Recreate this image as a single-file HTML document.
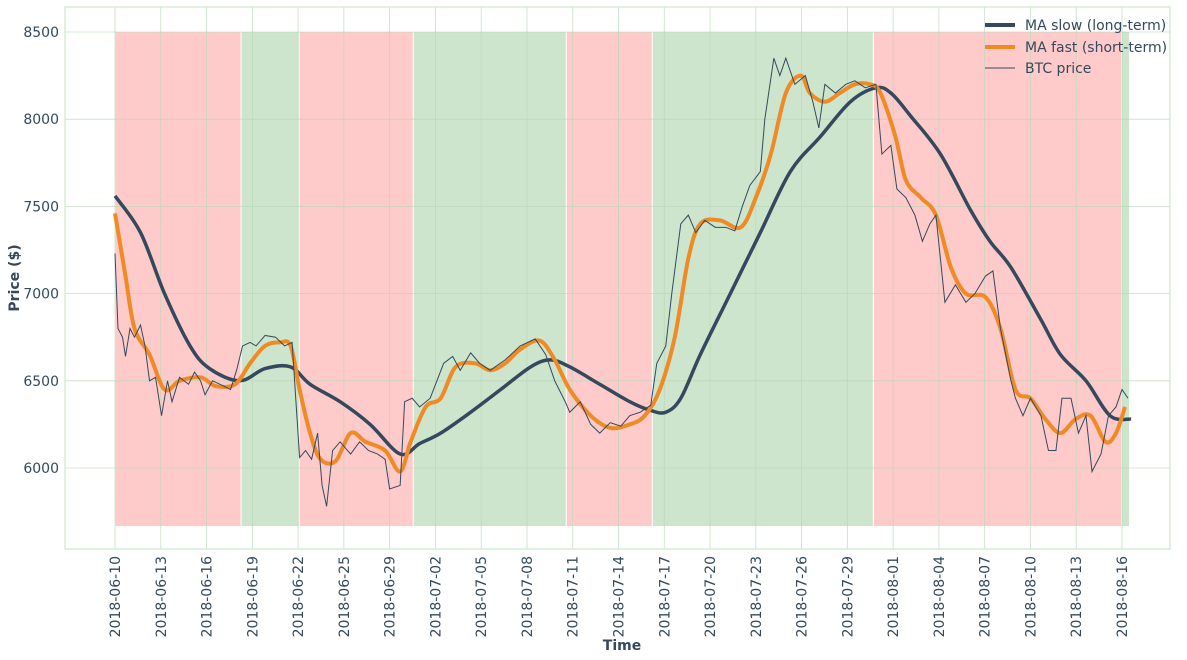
<!DOCTYPE html>
<html><head><meta charset="utf-8">
<style>
body{margin:0;background:#fff;}
svg{display:block;font-family:"DejaVu Sans","Liberation Sans",sans-serif;}
</style></head>
<body>
<svg id="chart" width="1187" height="660" viewBox="0 0 1187 660" xmlns="http://www.w3.org/2000/svg">
<g id="bands"></g>
<g id="grid"></g>
<g id="series"></g>
<rect x="65" y="7" width="1105" height="542" fill="none" stroke="#c6e2c6" stroke-width="1"/>
<g id="ticks"></g>
<text transform="translate(19,278) rotate(-90)" text-anchor="middle" font-size="14" font-weight="bold" fill="#34495e">Price ($)</text>
<text x="622" y="650" text-anchor="middle" font-size="14" font-weight="bold" fill="#34495e">Time</text>
<g>
  <line x1="985" y1="25" x2="1015" y2="25" stroke="#34495e" stroke-width="4"/>
  <text x="1025" y="30" font-size="14" fill="#34495e">MA slow (long-term)</text>
  <line x1="985" y1="47" x2="1015" y2="47" stroke="#f08a24" stroke-width="4"/>
  <text x="1025" y="52" font-size="14" fill="#34495e">MA fast (short-term)</text>
  <line x1="985" y1="68" x2="1015" y2="68" stroke="#34495e" stroke-width="1"/>
  <text x="1025" y="73" font-size="14" fill="#34495e">BTC price</text>
</g>
</svg>
<script>
const tickLabels=["2018-06-10","2018-06-13","2018-06-16","2018-06-19","2018-06-22","2018-06-25","2018-06-29","2018-07-02","2018-07-05","2018-07-08","2018-07-11","2018-07-14","2018-07-17","2018-07-20","2018-07-23","2018-07-26","2018-07-29","2018-08-01","2018-08-04","2018-08-07","2018-08-10","2018-08-13","2018-08-16"];
const tickDays=[0,3.05,6.1,9.15,12.2,15.25,18.3,21.35,24.4,27.45,30.5,33.55,36.6,39.65,42.7,45.75,48.8,51.85,54.9,57.95,61,64.05,67.1];
const yTicks=[6000,6500,7000,7500,8000,8500];
const bandStarts=[0,8.4,12.27,19.87,30.07,35.8,50.53,67.07];
const bandEnds=[8.4,12.27,19.87,30.07,35.8,50.53,67.07,67.6];
const bandSignal=["sell","buy","sell","buy","sell","buy","sell","buy"];
const priceDays=[0,0.2,0.5,0.7,1,1.3,1.7,2,2.3,2.7,3.1,3.5,3.8,4.3,4.9,5.3,5.7,6,6.5,7,7.7,8.1,8.5,9,9.4,10,10.7,11.3,11.8,12.3,12.7,13.1,13.5,13.8,14.1,14.5,15,15.7,16.3,16.9,17.5,18,18.3,19,19.3,19.8,20.3,21,21.9,22.5,23,23.7,24.3,25,26,27,28,28.7,29.3,30,30.3,31,31.7,32.3,33,33.7,34.3,35,35.7,36.1,36.7,37.1,37.7,38.2,38.7,39.3,40,40.7,41.3,41.8,42.3,43,43.3,43.9,44.3,44.7,45.3,46,46.5,46.9,47.3,48,48.7,49.3,50,50.7,51.1,51.7,52.1,52.7,53.3,53.8,54.3,54.7,55,55.3,56,56.7,57.3,58,58.5,59,59.7,60,60.5,61,61.7,62.2,62.7,63.1,63.7,64.2,64.7,65.1,65.7,66.2,66.7,67.1,67.5];
const priceVals=[7230,6800,6750,6640,6800,6750,6820,6700,6500,6520,6300,6500,6380,6520,6480,6550,6500,6420,6500,6480,6450,6560,6700,6720,6700,6760,6750,6700,6720,6060,6100,6050,6200,5900,5780,6100,6150,6080,6150,6100,6080,6050,5880,5900,6380,6400,6350,6400,6600,6640,6560,6660,6600,6560,6620,6700,6740,6650,6500,6380,6320,6380,6250,6200,6260,6240,6300,6320,6360,6600,6700,7000,7400,7450,7350,7420,7380,7380,7360,7500,7620,7700,8000,8350,8250,8350,8200,8250,8100,7950,8200,8150,8200,8220,8180,8200,7800,7850,7600,7550,7450,7300,7400,7450,7200,6950,7050,6950,7000,7100,7130,6800,6500,6400,6300,6400,6300,6100,6100,6400,6400,6200,6300,5980,6080,6300,6350,6450,6400];
const slowDays=[0,1.7,3.3,5,6.3,8.3,10,11.7,13,15,17,19,20.3,21.7,23.7,25.7,27.7,29,30.3,32.3,34.3,35.7,36.7,37.7,39,41,43,45,47,49,50.7,51.7,53,55,57,58.3,59.7,61.7,63,64.7,66.3,67.7];
const slowVals=[7560,7350,7000,6700,6570,6500,6570,6580,6480,6380,6250,6080,6140,6200,6320,6450,6580,6620,6580,6480,6380,6330,6320,6400,6650,7000,7350,7700,7900,8100,8180,8150,8020,7800,7480,7300,7150,6850,6650,6500,6300,6280];
const fastDays=[0,0.7,1.3,2.3,3.3,4.3,5.7,6.7,8,9,10,11,11.7,12.3,13,13.7,14.7,15.7,16.7,18,19,19.7,20.7,21.7,22.7,24,25,26,27,28.3,29.3,30.3,31.7,33,34.3,35.3,36.3,37.3,38.2,39,40.3,41.7,42.7,43.7,44.7,45.7,46.3,47.3,48.3,49.3,50.3,51,52,52.7,53.7,54.7,55.7,56.7,58,59,60,61,62,63,64,65,66,66.7,67.3];
const fastVals=[7460,7100,6800,6650,6450,6500,6520,6470,6480,6600,6700,6720,6700,6450,6200,6050,6040,6200,6150,6100,5980,6150,6350,6400,6580,6600,6560,6600,6680,6730,6620,6450,6300,6230,6250,6300,6450,6750,7200,7400,7420,7380,7550,7800,8150,8250,8150,8100,8150,8200,8200,8150,7900,7650,7550,7450,7150,7000,6980,6800,6450,6400,6280,6200,6280,6300,6150,6200,6350];

const X0=115,PXD=1007/67.1;
const xs=d=>X0+d*PXD;
const ys=v=>32+(8500-v)*(436/2500);
const NS="http://www.w3.org/2000/svg";
function mk(tag,parent){const e=document.createElementNS(NS,tag);document.getElementById(parent).appendChild(e);return e;}

bandStarts.forEach((s,i)=>{
  const r=mk('rect','bands');
  
  
  const x1=xs(s)+0.5,x2=xs(bandEnds[i])-0.5;
  r.setAttribute('x',x1);r.setAttribute('width',Math.max(0,x2-x1));
  r.setAttribute('y',ys(8500));r.setAttribute('height',ys(5667)-ys(8500));
  r.setAttribute('fill',bandSignal[i]==='sell'?'#ffcaca':'#cde5cc');
});
tickDays.forEach((d,i)=>{
  const l=mk('line','grid');
  
  
  l.setAttribute('x1',xs(d));l.setAttribute('x2',xs(d));l.setAttribute('y1',7);l.setAttribute('y2',549);
  l.setAttribute('stroke','#b8d8b8');l.setAttribute('stroke-width','0.8');l.setAttribute('opacity','0.8');
  const t=mk('text','ticks');
  
  
  t.setAttribute('transform','translate('+(xs(d)+5)+',556) rotate(-90)');
  t.setAttribute('text-anchor','end');t.setAttribute('font-size','14');t.setAttribute('fill','#34495e');
  t.textContent=tickLabels[i];
});
yTicks.forEach(v=>{
  const l=mk('line','grid');
  
  
  l.setAttribute('x1',65);l.setAttribute('x2',1170);l.setAttribute('y1',ys(v));l.setAttribute('y2',ys(v));
  l.setAttribute('stroke','#b8d8b8');l.setAttribute('stroke-width','0.8');l.setAttribute('opacity','0.8');
  const t=mk('text','ticks');
  
  
  t.setAttribute('x',59);t.setAttribute('y',ys(v)+5);
  t.setAttribute('text-anchor','end');t.setAttribute('font-size','14');t.setAttribute('fill','#34495e');
  t.textContent=v;
});
function smooth(px,py){
  let d='M'+px[0]+','+py[0];
  for(let i=0;i<px.length-1;i++){
    const i0=Math.max(0,i-1),i3=Math.min(px.length-1,i+2);
    const c1x=px[i]+(px[i+1]-px[i0])/6,c1y=py[i]+(py[i+1]-py[i0])/6;
    const c2x=px[i+1]-(px[i3]-px[i])/6,c2y=py[i+1]-(py[i3]-py[i])/6;
    d+=' C'+c1x+','+c1y+' '+c2x+','+c2y+' '+px[i+1]+','+py[i+1];
  }
  return d;
}
const slow=mk('path','series');


slow.setAttribute('d',smooth(slowDays.map(xs),slowVals.map(ys)));
slow.setAttribute('fill','none');slow.setAttribute('stroke','#34495e');slow.setAttribute('stroke-width','3.5');
const fast=mk('path','series');


fast.setAttribute('d',smooth(fastDays.map(xs),fastVals.map(ys)));
fast.setAttribute('fill','none');fast.setAttribute('stroke','#f08a24');fast.setAttribute('stroke-width','4');
const price=mk('polyline','series');


price.setAttribute('points',priceDays.map((d,i)=>xs(d)+','+ys(priceVals[i])).join(' '));
price.setAttribute('fill','none');price.setAttribute('stroke','#34495e');price.setAttribute('stroke-width','1');
</script>
</body></html>
